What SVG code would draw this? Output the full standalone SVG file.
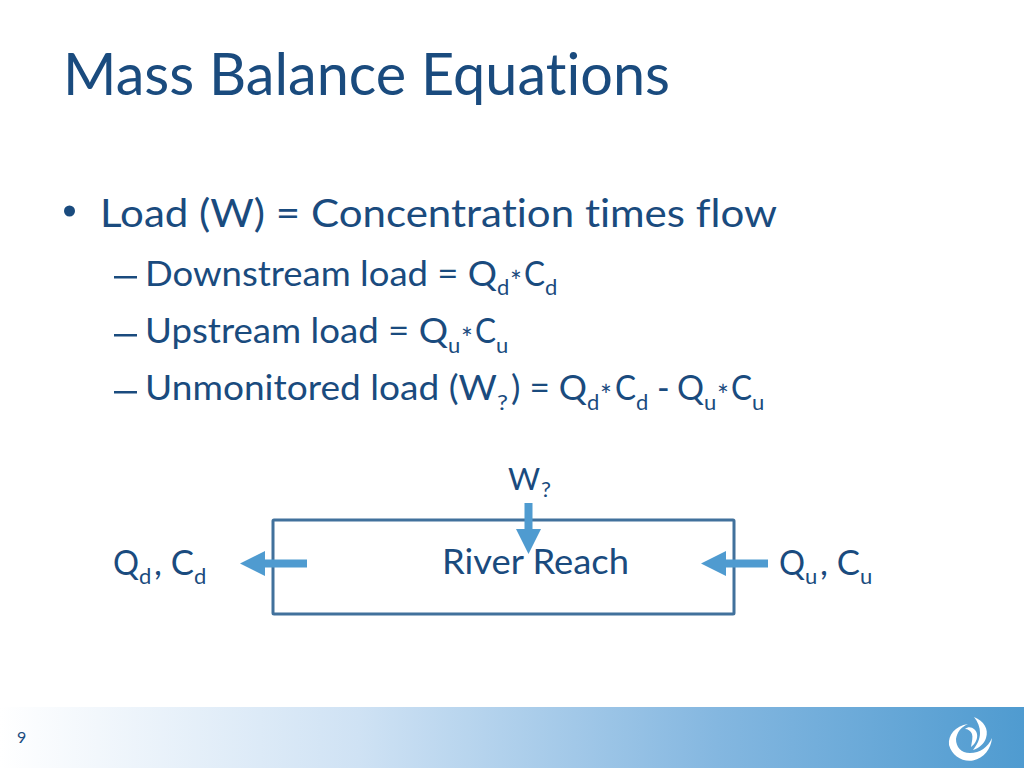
<svg xmlns="http://www.w3.org/2000/svg" width="1024" height="768" viewBox="0 0 1024 768">
<style>
text{font-family:Lato,"Liberation Sans",sans-serif;fill:#1a4b7e;font-variant-ligatures:none}
.t{font-size:58px}.a{font-size:39px}.b{font-size:34px}.w{font-size:31px}.s{font-size:22px}.m{font-size:28px}.n{font-size:16px}
.arrow{fill:#4f9bd0}
</style>
<defs><linearGradient id="g"><stop offset="0" stop-color="#fff"/><stop offset=".35" stop-color="#cfe2f4"/><stop offset=".7" stop-color="#84b7e0"/><stop offset="1" stop-color="#4f9bd0"/></linearGradient></defs>
<g id="footer"><rect y="707" width="1024" height="61" fill="url(#g)"/>
<text x="17" y="743" class="n">9</text>
<path fill="#fff" d="M968 724C955 726 948 735 949 745C952 756 962 762 973 760.500C984 758 991 749 992 738C988 747 980 753 970 753C961 753 956 747 956 739C957 732 961 727 968 724Z"/>
<path fill="#fff" d="M974 717C984 721 989 729 986 738C984 744 979 748 973 750C977 745 980 739 980 733C980 727 978 722 974 717Z"/>
<path fill="#fff" d="M965 729C970 725 976 729 977 734C978 739 975 744 971 747C972 741 973 737 972 734C971 731 968 729 965 729Z"/></g>
<g id="title"><text x="63" y="95" class="t" textLength="607" lengthAdjust="spacingAndGlyphs">Mass Balance Equations</text></g>
<g id="bullets">
<circle cx="69.500" cy="211" r="5.500" fill="#1a4b7e"/>
<text x="100" y="227" class="a" textLength="677" lengthAdjust="spacingAndGlyphs">Load (W) = Concentration times flow</text>
<rect x="114" y="276" width="23" height="2.500" fill="#1a4b7e"/>
<text x="145" y="286" class="b" textLength="352" lengthAdjust="spacingAndGlyphs">Downstream load = Q</text>
<text x="497" y="295" class="s">d</text><text x="510" y="292" class="m">*</text><text x="524" y="286" class="b" textLength="21" lengthAdjust="spacingAndGlyphs">C</text><text x="545" y="295" class="s">d</text>
<rect x="114" y="334" width="23" height="2.500" fill="#1a4b7e"/>
<text x="145" y="343" class="b" textLength="303" lengthAdjust="spacingAndGlyphs">Upstream load = Q</text>
<text x="448" y="353" class="s">u</text><text x="461" y="349" class="m">*</text><text x="475" y="343" class="b" textLength="21" lengthAdjust="spacingAndGlyphs">C</text><text x="496" y="353" class="s">u</text>
<rect x="114" y="391" width="23" height="2.500" fill="#1a4b7e"/>
<text x="145" y="400" class="b" textLength="352" lengthAdjust="spacingAndGlyphs">Unmonitored load (W</text>
<text x="497" y="410" class="s" textLength="11" lengthAdjust="spacingAndGlyphs">?</text><text x="511" y="400" class="b" textLength="76" lengthAdjust="spacingAndGlyphs">) = Q</text>
<text x="587" y="410" class="s">d</text><text x="600" y="406" class="m">*</text><text x="615" y="400" class="b" textLength="21" lengthAdjust="spacingAndGlyphs">C</text><text x="636" y="410" class="s">d</text>
<text x="657" y="400" class="b">-</text><text x="677" y="400" class="b" textLength="27" lengthAdjust="spacingAndGlyphs">Q</text>
<text x="704" y="410" class="s">u</text><text x="717" y="406" class="m">*</text><text x="731" y="400" class="b" textLength="21" lengthAdjust="spacingAndGlyphs">C</text><text x="752" y="410" class="s">u</text>
</g>
<g id="river-reach"><rect x="273" y="520" width="461" height="94" rx="1" fill="none" stroke="#41719c" stroke-width="3"/>
<text x="442" y="574" class="b" textLength="187" lengthAdjust="spacingAndGlyphs">River Reach</text></g>
<g id="wq"><text x="508" y="490" class="w">W</text><text x="541" y="497" class="s" textLength="10" lengthAdjust="spacingAndGlyphs">?</text></g>
<g id="qd"><text x="113" y="575" class="b" textLength="26" lengthAdjust="spacingAndGlyphs">Q</text><text x="139" y="584" class="s">d</text><text x="154" y="575" class="b" textLength="40" lengthAdjust="spacingAndGlyphs">, C</text><text x="194" y="584" class="s">d</text></g>
<g id="qu"><text x="779" y="575" class="b" textLength="26" lengthAdjust="spacingAndGlyphs">Q</text><text x="805" y="584" class="s">u</text><text x="820" y="575" class="b" textLength="40" lengthAdjust="spacingAndGlyphs">, C</text><text x="860" y="584" class="s">u</text></g>
<g id="connectors">
<path class="arrow" d="M307 559.500V567.500H265V576L240 563.500L265 551V559.500Z"/>
<path class="arrow" d="M768 559.500V567.500H726V576L701 563.500L726 551V559.500Z"/>
<path class="arrow" d="M524.500 503H532.500V529H541L528.500 554L516 529H524.500Z"/>
</g>
</svg>
